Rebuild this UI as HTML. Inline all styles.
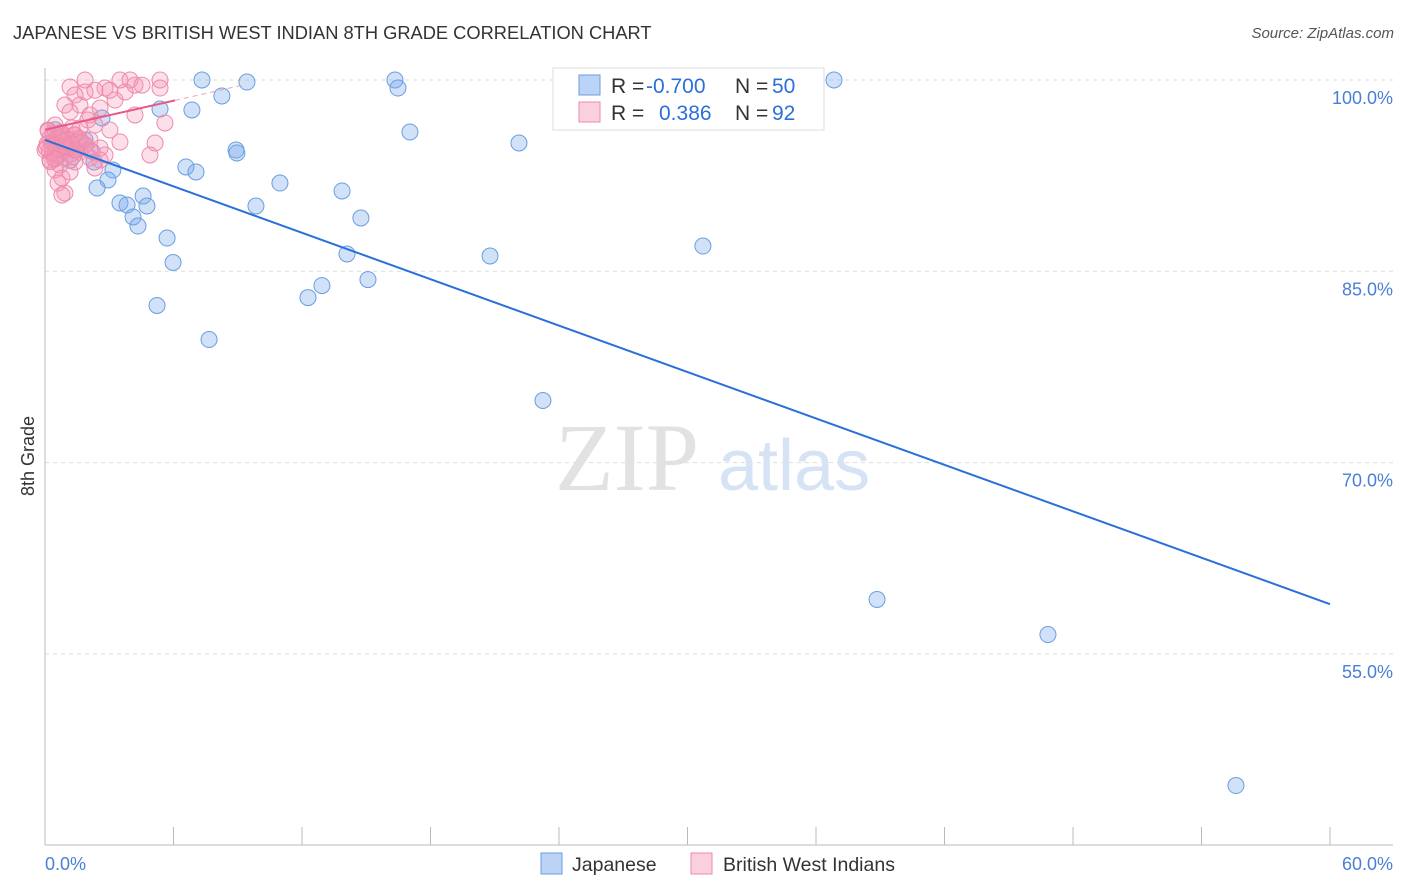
<!DOCTYPE html>
<html><head><meta charset="utf-8">
<style>
body{margin:0;background:#fff;font-family:"Liberation Sans",sans-serif;}
#wrap{position:relative;width:1406px;height:892px;overflow:hidden;}
.t{position:absolute;white-space:nowrap;}
</style></head>
<body>
<div id="wrap">
<div class="t" style="left:13px;top:22px;font-size:18.3px;color:#333;">JAPANESE VS BRITISH WEST INDIAN 8TH GRADE CORRELATION CHART</div>
<div class="t" style="right:12px;top:25px;font-size:15px;color:#555;font-style:italic;">Source: ZipAtlas.com</div>
<svg id="svg" width="1406" height="892" style="position:absolute;left:0;top:0"></svg>
</div>
<script>
const yTicks=[100,85,70,55];
const yTickLabels=["100.0%","85.0%","70.0%","55.0%"];
const xTickLabels=["0.0%","60.0%"];
const japX=[7.33,9.43,16.34,16.48,36.84,8.26,5.37,6.86,2.66,17.04,22.13,8.92,8.96,2.29,3.17,6.58,7.05,2.94,10.97,2.43,13.87,4.58,3.5,3.83,4.76,9.85,4.11,14.75,4.34,5.7,30.72,14.1,20.78,5.98,15.08,12.93,12.28,5.23,7.66,23.25,38.85,46.83,55.61,0.7,1.4,1.87,0.47,1.17,0.93,2.1];
const japY=[100,99.84,100,99.37,100,98.75,97.73,97.65,97.02,95.92,95.06,94.51,94.28,93.57,92.94,93.18,92.79,92.16,91.92,91.53,91.3,90.9,90.36,90.2,90.12,90.12,89.26,89.18,88.55,87.61,86.98,86.36,86.2,85.69,84.35,83.88,82.94,82.32,79.65,74.87,59.27,56.52,44.68,95.3,94.5,95.3,96.1,93.7,94.9,94.5];
const bwiX=[1.17,1.87,3.5,3.97,5.37,4.2,5.37,2.8,2.33,1.87,1.4,3.27,1.63,0.93,2.57,1.17,2.1,4.2,5.6,0.47,2.33,1.63,3.03,0.7,1.4,0.23,2.1,3.5,0.93,5.14,0.47,1.87,2.57,1.17,0.7,0,4.9,1.63,2.8,0.47,0.93,2.1,0.23,1.4,0.7,2.33,0.47,1.17,0.79,0.61,0.93,0.79,2.57,0.14,0.33,1.26,2.0,3.03,4.53,3.74,0.3,0.6,0.9,1.2,0.4,0.8,1.5,0.2,1.0,0.5,1.3,0.1,0.6,1.1,1.7,0.35,0.75,1.9,0.25,0.55,1.05,1.45,0.15,0.65,0.95,1.35,0.45,0.85,2.2,1.6,0.05,1.25];
const bwiY=[99.45,100,100,100,100,99.6,99.37,99.37,99.2,99.06,98.82,98.43,98.04,98.04,97.8,97.5,97.26,97.26,96.63,96.47,96.47,96.24,96.08,95.84,95.69,95.45,95.3,95.14,95.14,95.06,94.9,94.9,94.67,94.67,94.51,94.51,94.12,94.35,94.12,94.12,93.88,93.88,93.73,93.57,93.33,93.1,92.94,92.79,92.32,91.92,91.14,90.98,93.73,96.08,95.14,96.24,96.86,99.2,99.6,99.06,95.0,94.6,95.6,94.2,95.8,94.8,95.2,94.4,95.4,93.9,94.0,95.0,95.5,94.7,95.1,94.3,95.9,94.9,93.6,94.6,95.3,94.5,96.0,94.1,94.8,95.7,93.8,95.2,94.4,95.4,94.7,95.0];
const japLine=[95.3,58.9];
const bwiLine=[96.1,98.4,6.07];
const X=v=>45+v/60*1285, Y=v=>80+(100-v)/15*191.3;
const svg=document.getElementById('svg');const NS='http://www.w3.org/2000/svg';
function mk(tag,a,p){const e=document.createElementNS(NS,tag);for(const k in a)e.setAttribute(k,a[k]);(p||svg).appendChild(e);return e;}
yTicks.forEach((t,i)=>{
 const g=mk('line',{x1:45,x2:1393,y1:Y(t),y2:Y(t),stroke:'#ddd','stroke-dasharray':'4,4'});
 
 const tx=mk('text',{x:1393,y:Y(t)+24,'text-anchor':'end','font-size':18,fill:'#4a7fd6','font-family':'Liberation Sans'});
 tx.textContent=yTickLabels[i];
 
});
const ax=mk('line',{x1:45,x2:45,y1:68,y2:845,stroke:'#bbb'});
const bx=mk('line',{x1:45,x2:1393,y1:845,y2:845,stroke:'#bbb'});
for(let i=0;i<=10;i++){const tk=mk('line',{x1:X(i*6),x2:X(i*6),y1:827,y2:845,stroke:'#bbb'});}
[[X(0),'start'],[1393,'end']].forEach((p,i)=>{const t=mk('text',{x:p[0],y:870,'text-anchor':p[1],'font-size':18,fill:'#4a7fd6','font-family':'Liberation Sans'});t.textContent=xTickLabels[i];});
const yt=mk('text',{x:34,y:456,transform:'rotate(-90 34 456)','text-anchor':'middle','font-size':18,fill:'#333','font-family':'Liberation Sans'});yt.textContent='8th Grade';
const w1=mk('text',{x:555,y:490,'font-size':96,fill:'#e2e2e2','font-family':'Liberation Serif'});w1.textContent='ZIP';
const w2=mk('text',{x:718,y:490,'font-size':72,fill:'#d5e3f5','font-family':'Liberation Sans'});w2.textContent='atlas';
japX.forEach((x,i)=>{const c=mk('circle',{cx:X(x),cy:Y(japY[i]),r:8,fill:'rgba(120,170,235,0.35)',stroke:'#6a9ee0','stroke-width':1});});
bwiX.forEach((x,i)=>{const c=mk('circle',{cx:X(x),cy:Y(bwiY[i]),r:8,fill:'rgba(245,150,180,0.3)',stroke:'#ee8aab','stroke-width':1});});
const l1=mk('line',{x1:X(0),y1:Y(japLine[0]),x2:X(60),y2:Y(japLine[1]),stroke:'#2b6fd8','stroke-width':2});
const l2=mk('line',{x1:X(0),y1:Y(bwiLine[0]),x2:X(bwiLine[2]),y2:Y(bwiLine[1]),stroke:'#e8578a','stroke-width':2});
const sl=(bwiLine[1]-bwiLine[0])/bwiLine[2];
const l3=mk('line',{x1:X(bwiLine[2]),y1:Y(bwiLine[1]),x2:X(9.2),y2:Y(bwiLine[0]+sl*9.2),stroke:'#f0a0bc','stroke-width':1,'stroke-dasharray':'5,4'});
// legend
const lg=mk('rect',{x:553,y:68,width:271,height:62,fill:'#fff',stroke:'#ddd'});
[[0,'rgba(120,170,235,0.5)','#6a9ee0','-0.700','50'],[1,'rgba(245,150,180,0.45)','#ee8aab','0.386','92']].forEach(r=>{
 const y=75+r[0]*27;
 const s=mk('rect',{x:579,y:y,width:21,height:20,fill:r[1],stroke:r[2]});
 const t=mk('text',{x:611,y:y+18,'font-size':21,fill:'#333','font-family':'Liberation Sans'});
 t.innerHTML='R = <tspan fill="#2b6fd8" x="'+(r[0]?659:646)+'">'+r[3]+'</tspan><tspan fill="#333" x="735">N = </tspan><tspan fill="#2b6fd8" x="772">'+r[4]+'</tspan>';
 
});
[[541,'rgba(120,170,235,0.5)','#6a9ee0','Japanese',572],[691,'rgba(245,150,180,0.45)','#ee8aab','British West Indians',723]].forEach(r=>{
 const s=mk('rect',{x:r[0],y:853,width:21,height:21,fill:r[1],stroke:r[2]});
 const t=mk('text',{x:r[4],y:871,'font-size':19.5,fill:'#333','font-family':'Liberation Sans'});t.textContent=r[3];
});
</script>
</body></html>
